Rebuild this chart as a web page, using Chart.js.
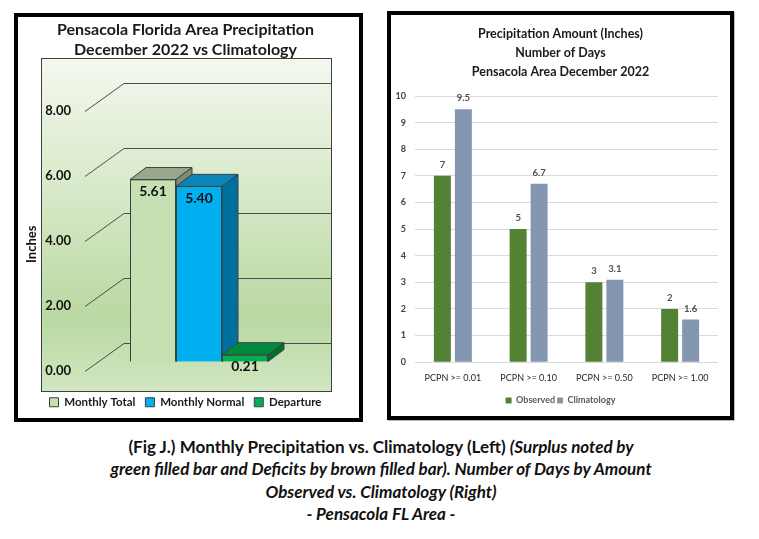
<!DOCTYPE html>
<html>
<head>
<meta charset="utf-8">
<title>Pensacola December 2022 Precipitation</title>
<script src="https://cdn.jsdelivr.net/npm/chart.js@4.4.1/dist/chart.umd.min.js"></script>
<style>
  html, body { margin: 0; padding: 0; background: #fff; }
  body { position: relative; width: 759px; height: 539px; overflow: hidden; }
  .panel { position: absolute; border: 4px solid #000; box-sizing: border-box; background: #fff; }
  #leftPanel { left: 14px; top: 13px; width: 349px; height: 409px; }
  #rightPanel { left: 387px; top: 11px; width: 347px; height: 409px; box-shadow: 1px 1px 0 #bbb; }
  canvas { display: block; }
  #caption { position: absolute; left: 0; top: 436px; width: 762px; text-align: center;
             font: bold 17px Lato, sans-serif; line-height: 22.3px; color: #111; }
</style>
</head>
<body>
<div class="panel" id="leftPanel"><canvas id="totalChart" width="341" height="401"></canvas></div>
<div class="panel" id="rightPanel"><canvas id="daysChart" width="339" height="401"></canvas></div>
<div id="caption">
(Fig J.) Monthly Precipitation vs. Climatology (Left) <i>(Surplus noted by</i><br>
<i>green filled bar and Deficits by brown filled bar). Number of Days by Amount</i><br>
<i>Observed vs. Climatology (Right)</i><br>
<i>- Pensacola FL Area -</i>
</div>
<script>
Chart.defaults.font.family = 'Lato, sans-serif';
Chart.defaults.color = '#111';

// left chart: monthly total vs normal
const monthSeries = ['Monthly Total', 'Monthly Normal', 'Departure'];
const monthValues = [5.61, 5.40, 0.21];
const inchTicks = [0, 2, 4, 6, 8];

// right chart: number of days by amount
const amountCategories = ['PCPN >= 0.01', 'PCPN >= 0.10', 'PCPN >= 0.50', 'PCPN >= 1.00'];
const observedDays = [7, 5, 3, 2];
const climatologyDays = [9.5, 6.7, 3.1, 1.6];
const dayTicks = [0, 1, 2, 3, 4, 5, 6, 7, 8, 9, 10];

// 3d look of the left chart
const frontColors = ['#c6e0b4', '#00b0f0', '#00b050'];
const topColors = ['#98a88a', '#0a85b8', '#008a3e'];
const sideColors = ['#7e8f70', '#00719e', '#006e31'];
const barDepth = { dx: 16, dy: -12 };
const labelDrop = 9;   // tick labels sit in front of the bars
const wall = { x0: 11, dx: 39, dy: -28 };

function face(ctx, pts, color) {
  ctx.beginPath();
  ctx.moveTo(pts[0][0], pts[0][1]);
  for (let k = 1; k < pts.length; k++) ctx.lineTo(pts[k][0], pts[k][1]);
  ctx.closePath();
  ctx.fillStyle = color;
  ctx.fill();
  ctx.strokeStyle = '#3f3f3f';
  ctx.lineWidth = 1;
  ctx.stroke();
}

const plot3d = {
  id: 'plot3d',
  beforeDraw(chart) {
    const { ctx, chartArea } = chart;
    const left = chartArea.left - 33, right = chart.width - 27, top = 41, bottom = 375;
    const g = ctx.createLinearGradient(0, top, 0, bottom);
    g.addColorStop(0, '#f4f8ef');
    g.addColorStop(0.4, '#d7e9c8');
    g.addColorStop(0.78, '#bad8a2');
    g.addColorStop(1, '#d2e7c2');
    ctx.save();
    ctx.fillStyle = g;
    ctx.fillRect(left, top, right - left, bottom - top);
    ctx.strokeStyle = '#404040';
    ctx.lineWidth = 1;
    ctx.strokeRect(left + 0.5, top + 0.5, right - left - 1, bottom - top - 1);
    ctx.restore();
  },
  beforeDatasetsDraw(chart) {
    const { ctx, chartArea } = chart;
    const y = chart.scales.y;
    const right = chart.width - 28;
    ctx.save();
    ctx.strokeStyle = '#4d4d4d';
    ctx.lineWidth = 1;
    inchTicks.forEach(v => {
      const p = Math.round(y.getPixelForValue(v) + labelDrop) + 0.5;
      ctx.beginPath();
      ctx.moveTo(chartArea.left + wall.x0, p);
      ctx.lineTo(chartArea.left + wall.x0 + wall.dx, p + wall.dy);
      ctx.lineTo(right, p + wall.dy);
      ctx.stroke();
    });
    ctx.restore();
  },
  afterDatasetsDraw(chart) {
    const { ctx } = chart;
    const { dx, dy } = barDepth;
    ctx.save();
    chart.data.datasets.forEach((ds, i) => {
      chart.getDatasetMeta(i).data.forEach(bar => {
        const { x, y, base, width } = bar.getProps(['x', 'y', 'base', 'width'], true);
        const l = x - width / 2, r = x + width / 2;
        bar.draw(ctx);
        face(ctx, [[l, y], [r, y], [r + dx, y + dy], [l + dx, y + dy]], topColors[i]);
        face(ctx, [[r, y], [r, base], [r + dx, base + dy], [r + dx, y + dy]], sideColors[i]);
      });
    });
    ctx.font = 'bold 14px Lato, sans-serif';
    ctx.fillStyle = '#111';
    ctx.textAlign = 'center';
    ctx.textBaseline = 'middle';
    chart.data.datasets.forEach((ds, i) => {
      chart.getDatasetMeta(i).data.forEach((bar, j) => {
        ctx.fillText(ds.data[j].toFixed(2), bar.x, bar.y + 12);
      });
    });
    ctx.restore();
  }
};

const dayLabels = {
  id: 'dayLabels',
  afterDatasetsDraw(chart) {
    const { ctx } = chart;
    ctx.save();
    ctx.font = 'bold 9.5px Lato, sans-serif';
    ctx.fillStyle = '#505050';
    ctx.textAlign = 'center';
    ctx.textBaseline = 'middle';
    chart.data.datasets.forEach((ds, i) => {
      chart.getDatasetMeta(i).data.forEach((bar, j) => {
        ctx.fillText(String(ds.data[j]), bar.x, bar.y - 11);
      });
    });
    ctx.restore();
  }
};

new Chart(document.getElementById('totalChart'), {
  type: 'bar',
  data: {
    labels: ['December 2022'],
    datasets: monthSeries.map((name, i) => ({
      label: name,
      data: [monthValues[i]],
      backgroundColor: frontColors[i],
      borderColor: '#3f3f3f',
      borderWidth: 1,
      barPercentage: 1,
      categoryPercentage: 0.552
    }))
  },
  options: {
    responsive: false,
    animation: false,
    layout: { padding: { left: 0, right: 6, top: 0, bottom: 0 } },
    plugins: {
      title: {
        display: true,
        text: ['Pensacola Florida Area Precipitation', 'December 2022 vs Climatology'],
        color: '#1a1a1a',
        font: { size: 16, weight: 'bold', lineHeight: 1.25 },
        padding: { top: 3, bottom: 42 }
      },
      legend: {
        position: 'bottom',
        labels: { boxWidth: 9, boxHeight: 9, padding: 10, color: '#1a1a1a', font: { size: 11.5, weight: 'bold' } }
      },
      tooltip: { enabled: false }
    },
    scales: {
      x: { display: false },
      y: {
        min: -0.77,
        max: 8,
        afterBuildTicks: s => { s.ticks = inchTicks.map(v => ({ value: v })); },
        afterFit: s => { s.width = 56; },
        grid: { display: false, drawTicks: false },
        border: { display: false },
        ticks: { labelOffset: labelDrop, padding: 3, color: '#111', font: { size: 13, weight: 'bold' }, callback: v => v.toFixed(2) },
        title: { display: true, text: 'Inches', color: '#111', font: { size: 13, weight: 'bold' }, padding: { top: 6, bottom: 0 } }
      },
      yPad: {
        position: 'right',
        grid: { display: false, drawTicks: false },
        border: { display: false },
        ticks: { display: false },
        afterFit: s => { s.width = 29; }
      }
    }
  },
  plugins: [plot3d]
});

new Chart(document.getElementById('daysChart'), {
  type: 'bar',
  data: {
    labels: amountCategories,
    datasets: [
      { label: 'Observed', data: observedDays, backgroundColor: '#548235', barPercentage: 0.81, categoryPercentage: 0.554 },
      { label: 'Climatology', data: climatologyDays, backgroundColor: '#8497b0', barPercentage: 0.81, categoryPercentage: 0.554 }
    ]
  },
  options: {
    responsive: false,
    animation: false,
    layout: { padding: { left: 0, right: 0, top: 0, bottom: 1 } },
    plugins: {
      title: {
        display: true,
        text: ['Precipitation Amount (Inches)', 'Number of Days', 'Pensacola Area December 2022'],
        color: '#1a1a1a',
        font: { size: 12.5, weight: 'bold', lineHeight: '19px' },
        padding: { top: 9.5, bottom: 14.5 }
      },
      legend: {
        position: 'bottom',
        labels: { boxWidth: 6, boxHeight: 6, padding: 2, color: '#595959', font: { size: 9, weight: 'bold' } }
      },
      tooltip: { enabled: false }
    },
    scales: {
      x: {
        grid: { display: false, drawTicks: false },
        border: { display: false },
        ticks: { padding: 10.5, color: '#262626', font: { size: 9 } }
      },
      y: {
        min: 0,
        max: 10,
        afterBuildTicks: s => { s.ticks = dayTicks.map(v => ({ value: v })); },
        afterFit: s => { s.width = 24; },
        grid: { color: '#d9d9d9', drawTicks: false },
        border: { display: false },
        ticks: { padding: 9, color: '#404040', font: { size: 9, weight: 'bold' } }
      },
      yPad: {
        position: 'right',
        grid: { display: false, drawTicks: false },
        border: { display: false },
        ticks: { display: false },
        afterFit: s => { s.width = 12; }
      }
    }
  },
  plugins: [dayLabels]
});
</script>
</body>
</html>
